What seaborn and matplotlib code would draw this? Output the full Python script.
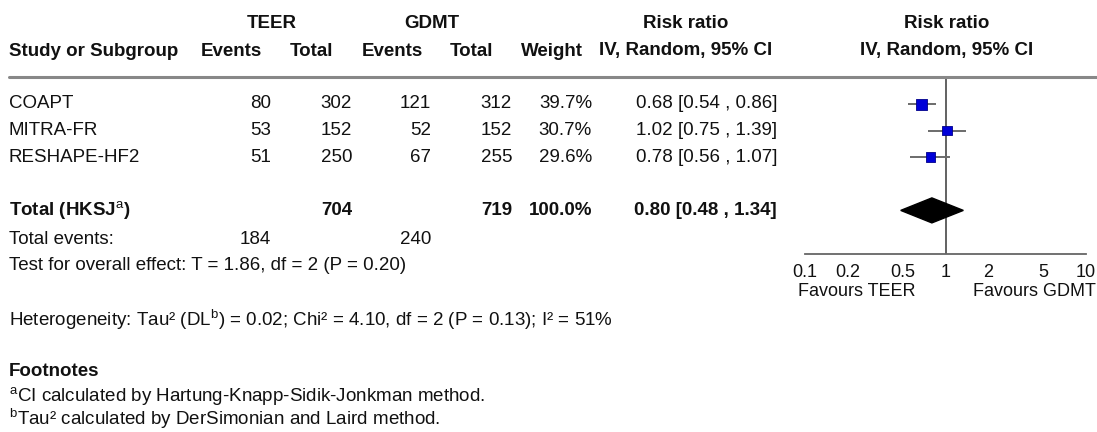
import numpy as np
import pandas as pd
import matplotlib
matplotlib.use("Agg")
import matplotlib.pyplot as plt
from matplotlib.transforms import Affine2D
import seaborn as sns

# ---------------- data ----------------
studies = ["COAPT", "MITRA-FR", "RESHAPE-HF2"]
teer_events = [80, 53, 51]
teer_total = [302, 152, 250]
gdmt_events = [121, 52, 67]
gdmt_total = [312, 152, 255]
weights = [39.7, 30.7, 29.6]
rr = [0.68, 1.02, 0.78]
rr_lo = [0.54, 0.75, 0.56]
rr_hi = [0.86, 1.39, 1.07]

total_teer = 704
total_gdmt = 719
total_weight = "100.0%"
total_rr = 0.80
total_lo = 0.48
total_hi = 1.34
events_teer = 184
events_gdmt = 240

ticks = [0.1, 0.2, 0.5, 1, 2, 5, 10]
tick_labels = ["0.1", "0.2", "0.5", "1", "2", "5", "10"]

# ---------------- style ----------------
sns.set_style("white")
plt.rcParams["font.family"] = ["Liberation Sans", "DejaVu Sans"]
plt.rcParams["mathtext.fontset"] = "custom"
plt.rcParams["mathtext.rm"] = "Liberation Sans"
plt.rcParams["mathtext.bf"] = "Liberation Sans:bold"
FS = 13.5

W, H = 1097, 432
fig = plt.figure(figsize=(W / 100, H / 100), dpi=100)
px = Affine2D().scale(1 / W, -1 / H).translate(0, 1) + fig.transFigure


def t(x, y, s, ha="left", bold=False, size=FS, color="#111111"):
    fig.text(x, y, s, transform=px, ha=ha, va="center", fontsize=size,
             fontweight="bold" if bold else "normal", color=color)


# ---------------- header ----------------
t(272, 24, "TEER", ha="center", bold=True)
t(432, 24, "GDMT", ha="center", bold=True)
t(686, 24, "Risk ratio", ha="center", bold=True)
t(947, 24, "Risk ratio", ha="center", bold=True)
t(9, 51, "Study or Subgroup", bold=True)
t(262, 51, "Events", ha="right", bold=True)
t(333, 51, "Total", ha="right", bold=True)
t(423, 51, "Events", ha="right", bold=True)
t(493, 51, "Total", ha="right", bold=True)
t(583, 51, "Weight", ha="right", bold=True)
t(686, 51, "IV, Random, 95% CI", ha="center", bold=True)
t(947, 51, "IV, Random, 95% CI", ha="center", bold=True)

fig.add_artist(plt.Line2D([9 / W, 1.0], [1 - 77 / H, 1 - 77 / H],
                          transform=fig.transFigure, color="#888888", lw=2.2))

# ---------------- study rows ----------------
row0, step = 104, 26.6
for i, name in enumerate(studies):
    y = row0 + step * i
    t(9, y, name)
    t(271, y, f"{teer_events[i]}", ha="right")
    t(352, y, f"{teer_total[i]}", ha="right")
    t(431, y, f"{gdmt_events[i]}", ha="right")
    t(512, y, f"{gdmt_total[i]}", ha="right")
    t(592, y, f"{weights[i]:.1f}%", ha="right")
    t(777, y, f"{rr[i]:.2f} [{rr_lo[i]:.2f} , {rr_hi[i]:.2f}]", ha="right")

ytot = row0 + step * 4
t(9, ytot, r"Total (HKSJ$^{\mathrm{a}}$)", bold=True)
t(352, ytot, f"{total_teer}", ha="right", bold=True)
t(512, ytot, f"{total_gdmt}", ha="right", bold=True)
t(592, ytot, total_weight, ha="right", bold=True)
t(777, ytot, f"{total_rr:.2f} [{total_lo:.2f} , {total_hi:.2f}]", ha="right", bold=True)

t(9, 239, "Total events:")
t(271, 239, f"{events_teer}", ha="right")
t(431, 239, f"{events_gdmt}", ha="right")
t(9, 266, "Test for overall effect: T = 1.86, df = 2 (P = 0.20)")
t(9, 320, r"Heterogeneity: Tau² (DL$^{\mathrm{b}}$) = 0.02; Chi² = 4.10, df = 2 (P = 0.13); I² = 51%")
t(9, 372, "Footnotes", bold=True)
t(9, 397, r"$^{\mathrm{a}}$CI calculated by Hartung-Knapp-Sidik-Jonkman method.")
t(9, 419, r"$^{\mathrm{b}}$Tau² calculated by DerSimonian and Laird method.")

# ---------------- forest axes ----------------
ax_l, ax_r, ax_t, ax_b = 805, 1086, 77, 254
ax = fig.add_axes([ax_l / W, 1 - ax_b / H, (ax_r - ax_l) / W, (ax_b - ax_t) / H])
ax.set_xscale("log")
ax.set_xlim(0.1, 10)
ax.set_ylim((ax_b - row0) / step, (ax_t - row0) / step)
ax.patch.set_alpha(0)

rows = np.arange(len(studies))
df = pd.DataFrame({"study": studies, "rr": rr, "lo": rr_lo, "hi": rr_hi,
                   "w": weights, "row": rows})

ax.axvline(1, color="#555555", lw=1.3, zorder=1)
ax.hlines(df["row"], df["lo"], df["hi"], color="#6b6b6b", lw=1.4, zorder=2)
side_px = 11 * np.sqrt(df["w"] / max(weights))
sizes = (side_px * 0.72) ** 2
sns.scatterplot(data=df, x="rr", y="row", marker="s", s=sizes, color="#0000D8",
                edgecolor="#00008a", linewidth=0.6, ax=ax, zorder=3, legend=False)

h = 12.5 / step
ax.fill([total_lo, total_rr, total_hi, total_rr],
        [4, 4 - h, 4, 4 + h], color="black", zorder=3)

for s in ["top", "right", "left"]:
    ax.spines[s].set_visible(False)
ax.spines["bottom"].set_color("#666666")
ax.spines["bottom"].set_linewidth(1.3)
ax.set_yticks([])
ax.set_xticks(ticks)
ax.set_xticklabels(tick_labels)
ax.minorticks_off()
ax.tick_params(axis="x", direction="inout", length=8, width=1.1, color="#666666",
               labelsize=13, pad=3, labelcolor="#111111")
ax.set_xlabel("")
ax.set_ylabel("")

t(857, 291, "Favours TEER", ha="center", size=13)
t(973, 291, "Favours GDMT", ha="left", size=13)

fig.savefig("out.png", dpi=100)
